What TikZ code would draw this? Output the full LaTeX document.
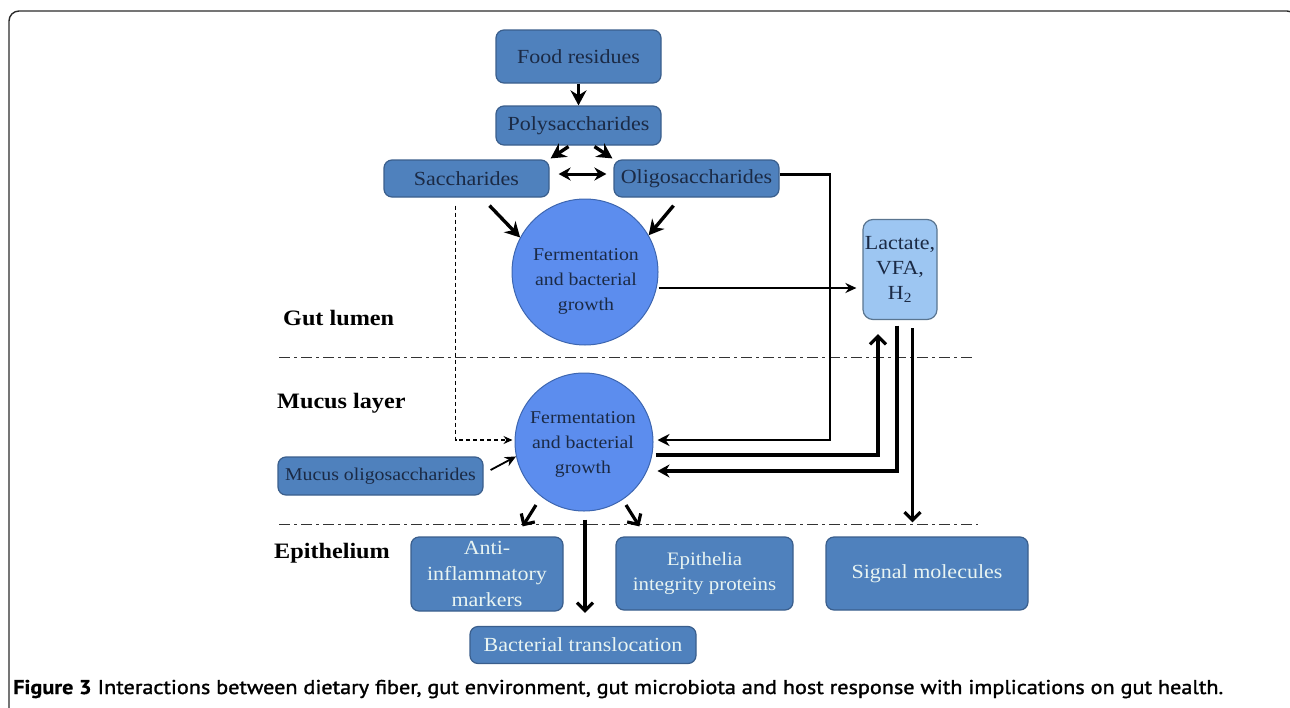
\documentclass[tikz,border=0pt]{standalone}
\usepackage{fontspec}
\setmainfont{Liberation Serif}[FakeStretch=1.1]
\newfontfamily\capfont{PT Sans}[FakeBold=1.4]
\newfontfamily\capbold{PT Sans Bold}[FakeBold=0.6]
\usetikzlibrary{arrows.meta,calc}
\definecolor{boxfill}{HTML}{4F81BD}
\definecolor{boxline}{HTML}{3A5E8C}
\definecolor{circfill}{HTML}{5C8DEE}
\definecolor{circline}{HTML}{3D66B0}
\definecolor{lacfill}{HTML}{9DC6F2}
\definecolor{lacline}{HTML}{5A7590}
\definecolor{darktext}{HTML}{1B2A45}
\definecolor{lighttext}{HTML}{E8F4F2}
\definecolor{framecol}{HTML}{2B2B2B}
\definecolor{sepcol}{HTML}{333333}
\begin{document}
\begin{tikzpicture}[x=1pt,y=-1pt,
  box/.style={draw=boxline, fill=boxfill, rounded corners=8pt, line width=1.2pt,
    inner sep=0pt, text=darktext, align=center, font=\fontsize{20}{25}\selectfont},
  lbox/.style={box, text=lighttext, font=\fontsize{20}{26}\selectfont},
  fcirc/.style={circle, draw=circline, fill=circfill, line width=1pt, inner sep=0pt},
  ctext/.style={text=darktext, align=center, inner sep=0pt, font=\fontsize{18}{25}\selectfont},
  layer/.style={anchor=west, inner sep=0pt, font=\fontsize{22}{26}\selectfont\bfseries, text=black},
  thick arr/.style={line width=3.4pt, -{Stealth[length=15pt 0 0,width=16pt 0 0]}},
  barb arr/.style={line width=3.2pt, -{Straight Barb[length=8pt 0 0,width=16pt 0 0]}},
  thin arr/.style={line width=1.8pt, -{Stealth[length=11pt 0 0,width=10pt 0 0]}},
  sep/.style={draw=sepcol, line width=1pt, dash pattern=on 11pt off 4pt on 3pt off 4pt}
]
\useasboundingbox (0,0) rectangle (1290,707);
% frame
\draw[framecol, line width=1.4pt, rounded corners=10pt] (9,730) -- (9,11) -- (1297,11) -- (1297,730);

% layer separators
\draw[sep] (279,357) -- (975,357);
\draw[sep] (279,524) -- (978,524);

% layer labels
\node[layer] (glum) at (283,318) {Gut lumen};
\node[layer] (mucl) at (277,403) {Mucus layer};
\node[layer] (epil) at (274,553) {Epithelium};

% boxes
\node[box, minimum width=165pt, minimum height=53pt] (food) at (578.5,56.5) {Food residues};
\node[box, minimum width=165pt, minimum height=39pt] (poly) at (578.5,125.5) {Polysaccharides};
\node[box, minimum width=165pt, minimum height=37pt] (sacch) at (466.5,178.5) {Saccharides};
\node[box, minimum width=165pt, minimum height=37pt] (oligo) at (696.5,178.5) {Oligosaccharides};
\node[box, fill=lacfill, draw=lacline, rounded corners=10pt, minimum width=74pt, minimum height=100pt,
  font=\fontsize{20}{25}\selectfont] (lact) at (900,269.5) {Lactate,\\VFA,\\H\textsubscript{2}};
\node[box, minimum width=205pt, minimum height=38pt, font=\fontsize{18}{22}\selectfont] (mucus) at (380.5,476) {Mucus oligosaccharides};
\node[lbox, minimum width=152pt, minimum height=74pt] (anti) at (487,574) {Anti-\\inflammatory\\markers};
\node[lbox, minimum width=177pt, minimum height=73pt, font=\fontsize{19}{25}\selectfont] (epi) at (704.5,573.5) {Epithelia\\integrity proteins};
\node[lbox, minimum width=202pt, minimum height=73pt] (sig) at (927,573.5) {Signal molecules};
\node[lbox, minimum width=226pt, minimum height=37pt] (bact) at (583,645) {Bacterial translocation};

% circles
\node[fcirc, minimum size=146pt] (circ1) at (585,272) {};
\node[ctext] (c1t) at (586,281) {Fermentation\\and bacterial\\growth};
\node[fcirc, minimum size=138pt] (circ2) at (584,442) {};
\node[ctext] (c2t) at (583,444) {Fermentation\\and bacterial\\growth};

% corner coordinates
\coordinate (k1) at (830,440);
\coordinate (k2) at (878,455);
\coordinate (k3) at (897,471);
\coordinate (k4) at (455.5,440);

% top arrows
\draw[thick arr] (food.south) -- (poly.north);
\draw[thick arr] ([xshift=-10pt,yshift=-1pt]poly.south) -- ([xshift=1pt,yshift=1pt]sacch.north east);
\draw[thick arr] ([xshift=16pt,yshift=-1pt]poly.south) -- ([xshift=-1pt,yshift=1pt]oligo.north west);
\draw[line width=3pt, {Stealth[length=12pt 0 0,width=13pt 0 0]}-{Stealth[length=12pt 0 0,width=13pt 0 0]}]
  ([xshift=9pt,yshift=4.5pt]sacch.east) -- ([xshift=-7pt,yshift=4.5pt]oligo.west);
\draw[thick arr] ([xshift=23pt,yshift=-8pt]sacch.south) -- (circ1.152);
\draw[thick arr] ([xshift=-23pt,yshift=-8pt]oligo.south) -- (circ1.30);

% fermentation -> lactate
\draw[thin arr] ([yshift=-16pt]circ1.east) -- ([xshift=-6pt,yshift=-18.5pt]lact.west);

% oligo -> lower fermentation
\draw[line width=2.4pt, -{Stealth[length=12pt 0 0,width=12pt 0 0]}] ([yshift=4pt]oligo.east) -| (k1) -- ([xshift=4pt,yshift=2pt]circ2.east);
% lower fermentation -> lactate
\draw[barb arr] ([xshift=2pt,yshift=-13pt]circ2.east) -- (k2) -- ([xshift=-22pt,yshift=-14pt]lact.south);
% lactate -> lower fermentation
\draw[line width=3.2pt, -{Stealth[length=12pt 0 0,width=13pt 0 0]}] ([xshift=-3pt,yshift=-5.5pt]lact.south) -- (k3) -- ([xshift=4pt,yshift=-29pt]circ2.east);
% lactate -> signal molecules
\draw[barb arr] ([xshift=12.5pt,yshift=-8pt]lact.south) -- ([xshift=-14.5pt,yshift=14pt]sig.north);

% dashed from saccharides
\draw[line width=1.1pt, dash pattern=on 4pt off 3pt, -{Stealth[length=9pt 0 0,width=8pt 0 0]}]
  ([xshift=-11pt,yshift=-8pt]sacch.south) -- (k4) -- ([xshift=-2pt,yshift=2pt]circ2.west);
% mucus oligo -> fermentation
\draw[thin arr] ([xshift=7pt,yshift=6pt]mucus.east) -- (circ2.192);

% lower fermentation outputs
\draw[barb arr] ([shift={(-48pt,-63pt)}]circ2.center) -- ([shift={(-41pt,10pt)}]anti.north east);
\draw[barb arr] ([shift={(42pt,-63pt)}]circ2.center) -- ([shift={(24pt,10pt)}]epi.north west);
\draw[barb arr] ([shift={(1pt,-8pt)}]circ2.south) -- ([shift={(2pt,13pt)}]bact.north);

% caption
\node[anchor=base west, inner sep=0pt] (cap) at (13,694) {\resizebox{1210pt}{\height}{\fontsize{20}{24}\selectfont{\capbold Figure 3} \capfont Interactions between dietary fiber, gut environment, gut microbiota and host response with implications on gut health.}};
\end{tikzpicture}
\end{document}
